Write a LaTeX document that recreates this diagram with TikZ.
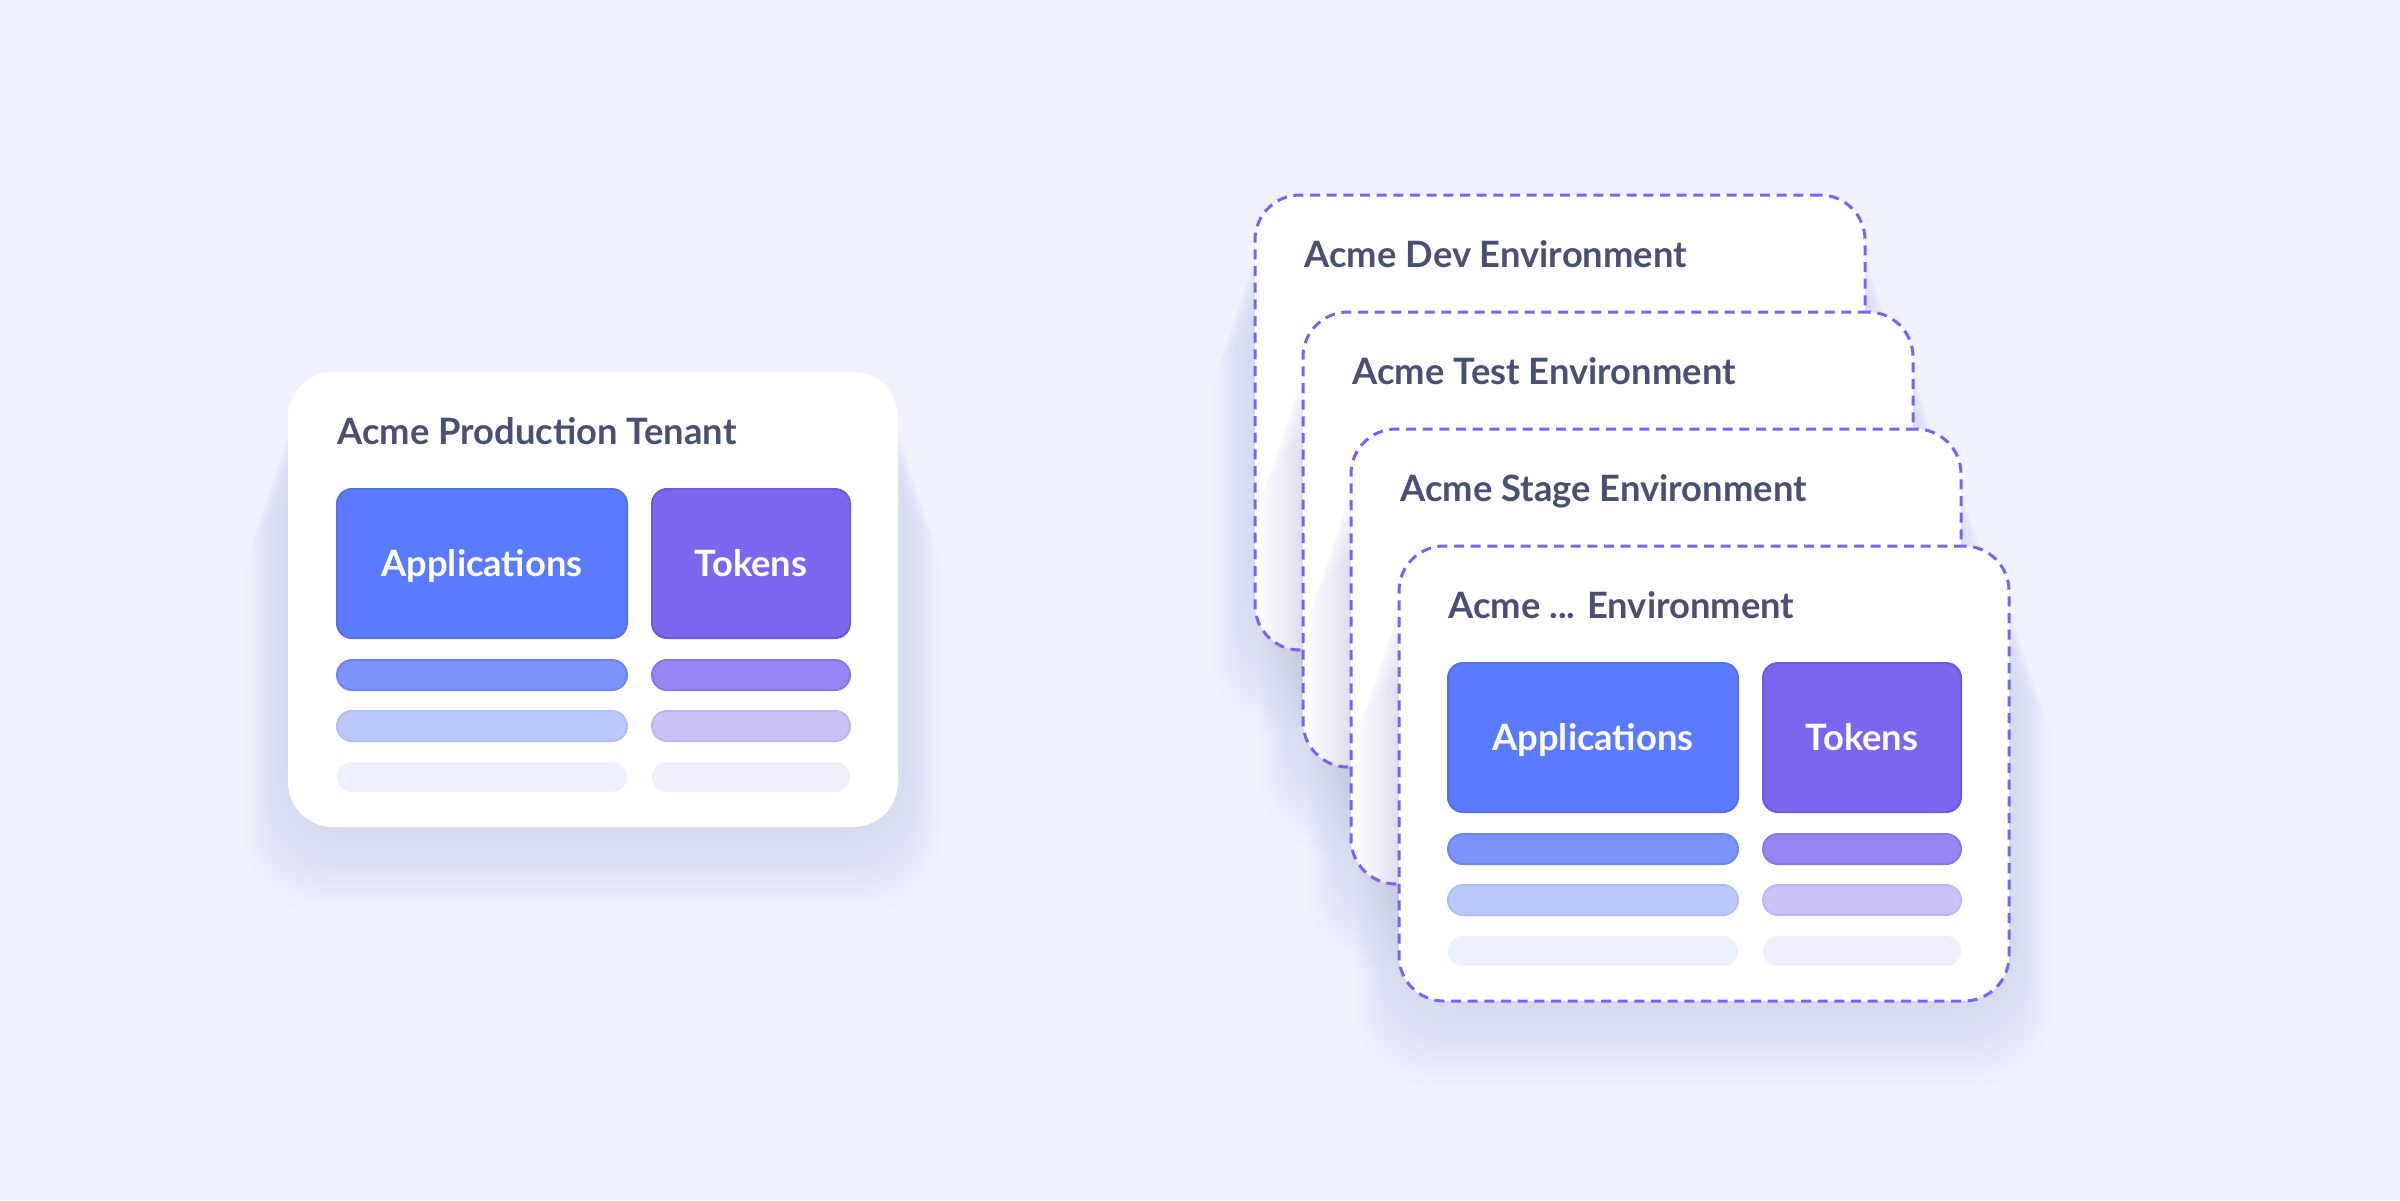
\documentclass[tikz,border=0pt]{standalone}
\usepackage{fontspec}
\setmainfont{Lato}
\usepackage{tikz}
\usetikzlibrary{positioning}

\definecolor{bgblue}{HTML}{F0F3FE}
\definecolor{titlegray}{HTML}{4B5072}
\definecolor{dashpurple}{HTML}{7B61F5}
\definecolor{shadowgray}{HTML}{9CA2C2}
\definecolor{appfill}{HTML}{5B7BFE}
\definecolor{appline}{HTML}{5470EA}
\definecolor{tokfill}{HTML}{7B66EF}
\definecolor{tokline}{HTML}{7058DF}
\definecolor{appbarA}{HTML}{7C93FC}
\definecolor{appbarAline}{HTML}{6F86EE}
\definecolor{appbarB}{HTML}{BBC8FC}
\definecolor{appbarBline}{HTML}{B0BEF6}
\definecolor{appbarC}{HTML}{EEF2FE}
\definecolor{tokbarA}{HTML}{9686F2}
\definecolor{tokbarAline}{HTML}{8A77E6}
\definecolor{tokbarB}{HTML}{CAC1F6}
\definecolor{tokbarBline}{HTML}{C0B5F1}
\definecolor{tokbarC}{HTML}{F1EFFC}

% soft shadow under a card, #1 is its north west corner
\newcommand{\cardshadow}[1]{%
	\foreach \s in {1,...,16}
		\fill[shadowgray, opacity=0.014, rounded corners=22pt]
			([shift={(-0.8pt*\s, -2.4pt*\s)}]#1) rectangle ([shift={(183pt+0.8pt*\s, -136.5pt-1.6pt*\s)}]#1);
}

\begin{document}
\begin{tikzpicture}[
		node distance=6.3pt,
		card/.style = {fill=white, rounded corners=13.5pt, minimum width=183pt, minimum height=136.5pt, inner sep=0pt, outer sep=0pt, anchor=north west},
		envcard/.style = {card, draw=dashpurple, line width=0.9pt, dash pattern=on 3pt off 2pt},
		title/.style = {text=titlegray, font=\bfseries\fontsize{10.9}{12}\selectfont, inner sep=0pt},
		box/.style = {draw, line width=0.6pt, rounded corners=4.5pt, minimum height=44.7pt, inner sep=0pt, outer sep=0pt, text=white, font=\bfseries\fontsize{10.9}{12}\selectfont, text height=7.8pt, text depth=0pt},
		apps/.style = {box, fill=appfill, draw=appline, minimum width=87pt},
		tokens/.style = {box, fill=tokfill, draw=tokline, minimum width=59.4pt},
		bar/.style = {rounded corners=4.5pt, minimum height=9pt, inner sep=0pt, outer sep=0pt, line width=0.6pt},
		appbar/.style = {bar, minimum width=87pt},
		tokbar/.style = {bar, minimum width=59.4pt}
	]
	\useasboundingbox (0,0) rectangle (720pt,-360pt);
	\fill[bgblue] (0,0) rectangle (720pt,-360pt);

	\coordinate (prodnw) at (86.4pt,-111.6pt);
	\coordinate (devnw) at (376.5pt,-58.5pt);
	\coordinate[below right=35.1pt and 14.4pt of devnw] (testnw);
	\coordinate[below right=35.1pt and 14.4pt of testnw] (stagenw);
	\coordinate[below right=35.1pt and 14.4pt of stagenw] (etcnw);

	% Production tenant.
	\cardshadow{prodnw}
	\node[card] (prod) at (prodnw) {};
	\node[title, below right=21.6pt and 14.7pt of prod.north west, anchor=base west] (prodtitle) {Acme Production Tenant};
	\node[apps, below right=35.1pt and 14.7pt of prod.north west] (prodapps) {Applications};
	\node[tokens, right=7.5pt of prodapps] (prodtok) {Tokens};
	\node[appbar, fill=appbarA, draw=appbarAline, below=6.6pt of prodapps] (prodappbar1) {};
	\node[appbar, fill=appbarB, draw=appbarBline, below=of prodappbar1] (prodappbar2) {};
	\node[appbar, fill=appbarC, below=of prodappbar2] (prodappbar3) {};
	\node[tokbar, fill=tokbarA, draw=tokbarAline, below=6.6pt of prodtok] (prodtokbar1) {};
	\node[tokbar, fill=tokbarB, draw=tokbarBline, below=of prodtokbar1] (prodtokbar2) {};
	\node[tokbar, fill=tokbarC, below=of prodtokbar2] (prodtokbar3) {};

	% Environments, back to front.
	\cardshadow{devnw}
	\node[envcard] (dev) at (devnw) {};
	\node[title, below right=21.6pt and 14.7pt of dev.north west, anchor=base west] (devtitle) {Acme Dev Environment};
	\cardshadow{testnw}
	\node[envcard] (test) at (testnw) {};
	\node[title, below right=21.6pt and 14.7pt of test.north west, anchor=base west] (testtitle) {Acme Test Environment};
	\cardshadow{stagenw}
	\node[envcard] (stage) at (stagenw) {};
	\node[title, below right=21.6pt and 14.7pt of stage.north west, anchor=base west] (stagetitle) {Acme Stage Environment};
	\cardshadow{etcnw}
	\node[envcard] (etc) at (etcnw) {};
	\node[title, below right=21.6pt and 14.7pt of etc.north west, anchor=base west] (etctitle) {Acme ... Environment};
	\node[apps, below right=35.1pt and 14.7pt of etc.north west] (etcapps) {Applications};
	\node[tokens, right=7.5pt of etcapps] (etctok) {Tokens};
	\node[appbar, fill=appbarA, draw=appbarAline, below=6.6pt of etcapps] (etcappbar1) {};
	\node[appbar, fill=appbarB, draw=appbarBline, below=of etcappbar1] (etcappbar2) {};
	\node[appbar, fill=appbarC, below=of etcappbar2] (etcappbar3) {};
	\node[tokbar, fill=tokbarA, draw=tokbarAline, below=6.6pt of etctok] (etctokbar1) {};
	\node[tokbar, fill=tokbarB, draw=tokbarBline, below=of etctokbar1] (etctokbar2) {};
	\node[tokbar, fill=tokbarC, below=of etctokbar2] (etctokbar3) {};
\end{tikzpicture}
\end{document}
